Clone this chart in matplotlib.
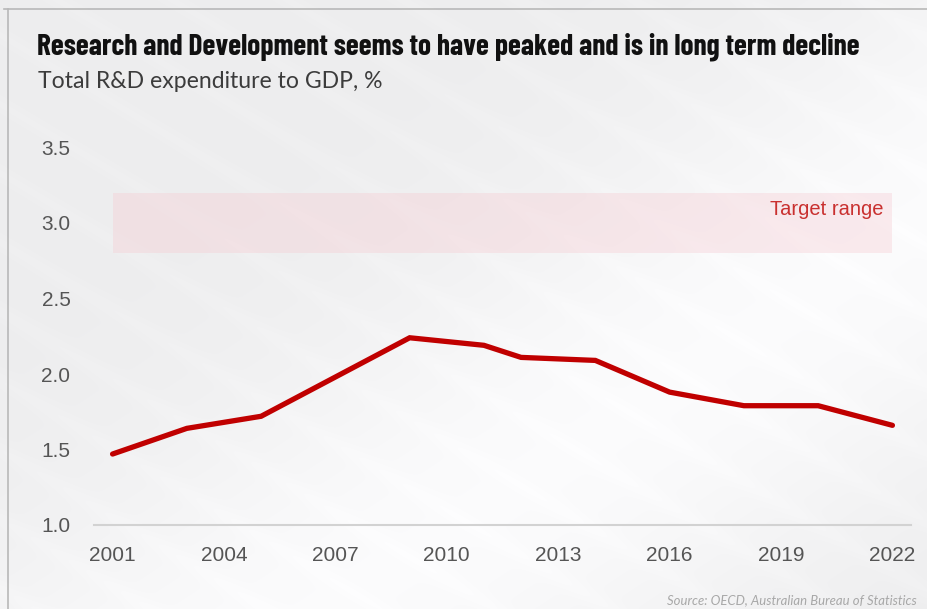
import numpy as np
import matplotlib.pyplot as plt
from matplotlib.lines import Line2D

years = [2001, 2003, 2005, 2007, 2009, 2011, 2012, 2014, 2016, 2018, 2020, 2022]
rd_to_gdp = [1.47, 1.64, 1.72, 1.98, 2.24, 2.19, 2.11, 2.09, 1.88, 1.79, 1.79, 1.66]
target_low, target_high = 2.8, 3.2
x_ticks = [2001, 2004, 2007, 2010, 2013, 2016, 2019, 2022]
y_ticks = [1.0, 1.5, 2.0, 2.5, 3.0, 3.5]

W, H = 928, 609
fig = plt.figure(figsize=(W / 100, H / 100), dpi=100)

# soft grey background, lighter towards the lower middle
bg = fig.add_axes([0, 0, 1, 1], zorder=-10)
yy, xx = np.mgrid[0:H, 0:W]
u = (xx / W) * 0.7 + (yy / H) * 0.7
base = 0.93 + 0.055 * np.exp(-((u - 0.95) / 0.3) ** 2)
streak = 0.008 * np.sin((xx * 0.6 - yy) / 22.0) ** 10
img = np.clip(base + streak, 0, 1)
bg.imshow(np.dstack([img, img, np.clip(img + 0.004, 0, 1)]), aspect="auto", extent=[0, 1, 0, 1])
bg.axis("off")

# frame lines (top and left)
fig.add_artist(Line2D([4 / W, 1], [1 - 9 / H, 1 - 9 / H], color="#b8b8b8", lw=1.2))
fig.add_artist(Line2D([7.5 / W, 7.5 / W], [0, 1 - 9 / H], color="#b8b8b8", lw=1.2))

x_left, x_right = 94, 911
y_bottom = 525
px_per_unit = 151
ymax = 3.6
y_top = y_bottom - (ymax - 1.0) * px_per_unit
ax = fig.add_axes([x_left / W, 1 - y_bottom / H, (x_right - x_left) / W, (y_bottom - y_top) / H])
ax.set_facecolor("none")
ax.set_xlim(2000.5, 2022.5)
ax.set_ylim(1.0, ymax)

ax.fill_between([2001, 2022], target_low, target_high, color="#f6c9d0", alpha=0.35, lw=0, zorder=1)
ax.text(2021.77, 3.09, "Target range", color="#c9302f", fontsize=14.5, family="Liberation Sans",
        ha="right", va="center")

ax.plot(years, rd_to_gdp, color="#c00000", lw=3.8, solid_capstyle="round", solid_joinstyle="miter", zorder=3)

for s in ["top", "right", "left"]:
    ax.spines[s].set_visible(False)
ax.spines["bottom"].set_color("#d2d2d2")
ax.spines["bottom"].set_linewidth(1.5)

ax.set_xticks(x_ticks)
ax.set_yticks(y_ticks)
ax.set_yticklabels([f"{v:.1f}" for v in y_ticks])
ax.tick_params(length=0, labelsize=15, labelcolor="#555555")
ax.tick_params(axis="y", pad=17)
ax.tick_params(axis="x", pad=15)
for lbl in ax.get_xticklabels() + ax.get_yticklabels():
    lbl.set_family("Liberation Sans")


def fit_width(txt, width_px):
    # shrink/grow the font so the text spans the same width as in the reference
    r = fig.canvas.get_renderer()
    w = txt.get_window_extent(renderer=r).width
    txt.set_fontsize(txt.get_fontsize() * width_px / w)


title = fig.text(37 / W, 1 - 47 / H, "Research and Development seems to have peaked and is in long term decline",
                 family=["Barlow Condensed", "Roboto Condensed", "DejaVu Sans"], fontweight=700,
                 fontsize=18, color="#111111", va="center", ha="left")
subtitle = fig.text(38 / W, 1 - 81 / H, "Total R&D expenditure to GDP, %",
                    family=["Lato", "DejaVu Sans"], fontweight="normal",
                    fontsize=15, color="#3c3c3c", va="center", ha="left")
source = fig.text(917 / W, 1 - 600 / H, "Source: OECD, Australian Bureau of Statistics",
                  family=["Lato", "DejaVu Sans"], style="italic", fontweight="normal",
                  fontsize=8.5, color="#a8a8a8", va="center", ha="right")
fit_width(title, 825)
fit_width(subtitle, 344)
fit_width(source, 249)

fig.savefig("out.png", dpi=100)
